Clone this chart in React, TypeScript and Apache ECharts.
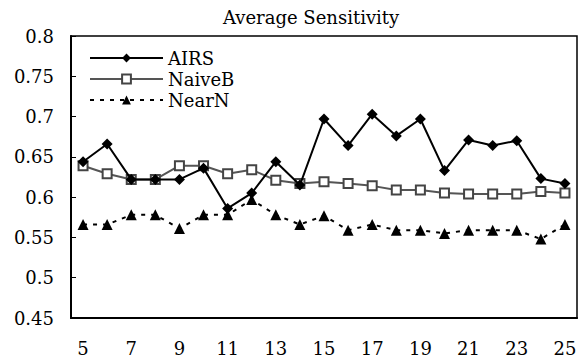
import React, { useEffect, useRef } from "react";
import * as echarts from "echarts";

const categories = ["5","6","7","8","9","10","11","12","13","14","15","16","17","18","19","20","21","22","23","24","25"];
const airs = [0.644, 0.666, 0.622, 0.622, 0.622, 0.636, 0.586, 0.605, 0.644, 0.615, 0.697, 0.664, 0.703, 0.676, 0.697, 0.633, 0.671, 0.664, 0.670, 0.623, 0.617];
const naiveB = [0.639, 0.629, 0.622, 0.622, 0.639, 0.639, 0.629, 0.634, 0.621, 0.617, 0.619, 0.617, 0.614, 0.609, 0.609, 0.605, 0.604, 0.604, 0.604, 0.607, 0.605];
const nearN = [0.566, 0.566, 0.578, 0.578, 0.561, 0.578, 0.578, 0.597, 0.578, 0.566, 0.577, 0.559, 0.566, 0.559, 0.559, 0.555, 0.559, 0.559, 0.559, 0.548, 0.566];

const FONT = "DejaVu Serif";

export default function App() {
  const ref = useRef<HTMLDivElement>(null);
  useEffect(() => {
    if (!ref.current) return;
    const chart = echarts.init(ref.current, null, { renderer: "svg" });
    chart.setOption({
      animation: false,
      backgroundColor: "#fff",
      textStyle: { fontFamily: FONT },
      title: {
        text: "Average Sensitivity",
        left: 218,
        top: 3,
        textStyle: { fontFamily: FONT, fontSize: 18, fontWeight: "normal", color: "#000" },
      },
      legend: {
        orient: "vertical",
        left: 89,
        top: 48,
        itemWidth: 73,
        itemHeight: 11,
        itemGap: 1,
        padding: 0,
        textStyle: { fontFamily: FONT, fontSize: 18, color: "#000", lineHeight: 20 },
        data: ["AIRS", "NaiveB", "NearN"],
      },
      grid: {
        left: 71,
        right: 4,
        top: 36,
        bottom: 40,
        show: true,
        borderColor: "#000",
        borderWidth: 1.5,
        backgroundColor: "transparent",
      },
      xAxis: {
        type: "category",
        data: categories,
        boundaryGap: true,
        axisLine: { lineStyle: { color: "#000", width: 2 } },
        axisTick: { inside: true, length: 5, interval: 0, lineStyle: { color: "#000", width: 1 } },
        axisLabel: { interval: 1, margin: 21, fontFamily: FONT, fontSize: 18, color: "#000" },
        splitLine: { show: false },
      },
      yAxis: {
        type: "value",
        min: 0.45,
        max: 0.8,
        interval: 0.05,
        axisLine: { show: true, lineStyle: { color: "#000", width: 2 } },
        axisTick: { show: true, inside: true, length: 5, lineStyle: { color: "#000", width: 1 } },
        axisLabel: {
          margin: 17,
          fontFamily: FONT,
          fontSize: 18,
          color: "#000",
          formatter: (v: number) => String(Math.round(v * 100) / 100),
        },
        splitLine: { show: false },
      },
      series: [
        {
          name: "AIRS",
          type: "line",
          data: airs,
          symbol: "diamond",
          symbolSize: 11,
          color: "#000",
          lineStyle: { color: "#000", width: 2 },
          itemStyle: { color: "#000" },
          z: 4,
        },
        {
          name: "NaiveB",
          type: "line",
          data: naiveB,
          symbol: "rect",
          symbolSize: 9,
          color: "#555",
          lineStyle: { color: "#555", width: 2 },
          itemStyle: { color: "#fff", borderColor: "#444", borderWidth: 2 },
          z: 3,
        },
        {
          name: "NearN",
          type: "line",
          data: nearN,
          symbol: "triangle",
          symbolSize: 11,
          color: "#000",
          lineStyle: { color: "#000", width: 2, type: [4, 6] },
          itemStyle: { color: "#000" },
          z: 2,
        },
      ],
    });
    return () => chart.dispose();
  }, []);
  return <div ref={ref} style={{ position: "fixed", left: 0, top: 0, width: 581, height: 358 }} />;
}
